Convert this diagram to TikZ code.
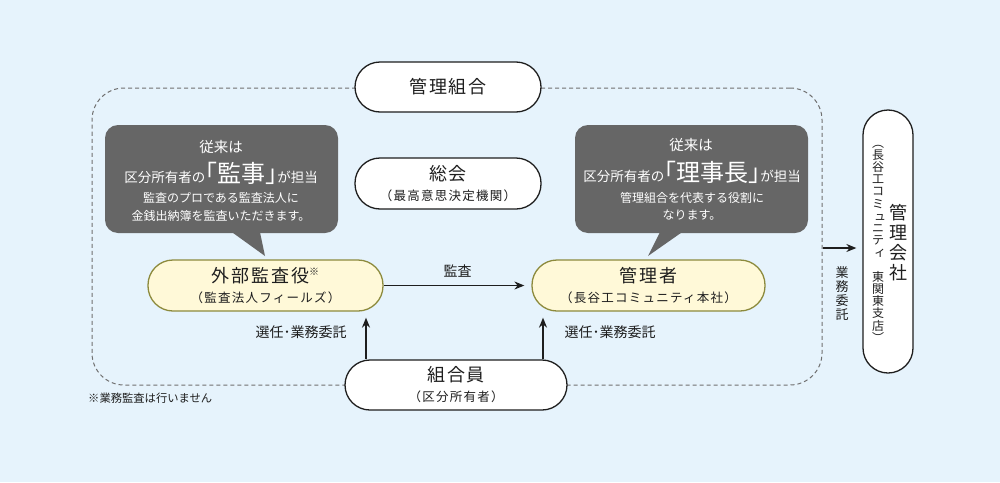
\documentclass[tikz,border=0pt]{standalone}
\usepackage{fontspec}
\setmainfont{Noto Sans CJK JP}
\newfontfamily\jpsp[LetterSpace=10]{Noto Sans CJK JP}
\usetikzlibrary{positioning}
\usetikzlibrary{arrows.meta}
\usepackage{xcolor}
\definecolor{bgblue}{HTML}{E6F3FC}
\definecolor{bubgray}{HTML}{666666}
\definecolor{pillfill}{HTML}{FFF9D8}
\definecolor{pillline}{HTML}{8C8A3C}
\definecolor{dashgray}{HTML}{707070}
\definecolor{inkblack}{HTML}{1E1E1E}
\newcommand{\jpsize}[1]{\fontsize{#1}{#1}\selectfont}
\newcommand{\kogaki}[1]{\hspace{4pt}#1}

\begin{document}
\begin{tikzpicture}[x=1pt, y=-1pt,
    pill/.style={draw=inkblack, line width=1.3pt, fill=white, rounded corners=25pt,
      minimum height=50pt, align=center, inner sep=0pt, text=inkblack,
      font=\fontsize{12.5}{20}\selectfont\jpsp},
    yellowpill/.style={pill, draw=pillline, fill=pillfill},
    bubble/.style={fill=bubgray, rounded corners=13pt, inner sep=0pt},
    btxt/.style={text=white, inner sep=0pt},
    lbl/.style={inner sep=0pt, text=inkblack, font=\jpsize{14}},
    arr/.style={-{Stealth[length=10pt,width=8pt]}, line width=1.3pt, draw=inkblack}]
  \path[fill=bgblue, use as bounding box] (0,0) rectangle (1000,482);

  % dashed frame of the union
  \node[draw=dashgray, line width=1pt, dash pattern=on 4pt off 3pt, rounded corners=32pt,
    minimum width=730pt, minimum height=297pt, inner sep=0pt] (union) at (457,236.5) {};

  % upper nodes
  \node[pill, minimum width=186pt] (kumiai) at (448,87) {{\jpsize{18}管理組合}};
  \node[pill, minimum width=186pt, minimum height=51pt] (sokai) at (448,183.5)
    {{\fontsize{18}{20}\selectfont 総会}\\（最高意思決定機関）};

  % speech bubbles
  \node[bubble, minimum width=233pt, minimum height=108pt] (bubL) at (221.5,179) {};
  \coordinate (tipL) at (265,256);
  \fill[bubgray] ([xshift=10.5pt,yshift=1pt]bubL.south) -- (tipL) -- ([xshift=38.5pt,yshift=1pt]bubL.south) -- cycle;
  \node[btxt, font=\jpsize{14.5}] (bubLa) at (221,147) {従来は};
  \node[btxt, font=\jpsize{13.5}] (bubLb) at (221,173)
    {区分所有者の{\jpsize{24}｢監事｣}が担当};
  \node[btxt, font=\jpsize{12}] (bubLc) at (221,198) {監査のプロである監査法人に};
  \node[btxt, font=\jpsize{12}] (bubLd) at (221,216) {金銭出納簿を監査いただきます。};

  \node[bubble, minimum width=233pt, minimum height=108pt] (bubR) at (691.5,179) {};
  \coordinate (tipR) at (648,256);
  \fill[bubgray] ([xshift=-31.5pt,yshift=1pt]bubR.south) -- (tipR) -- ([xshift=-9.5pt,yshift=1pt]bubR.south) -- cycle;
  \node[btxt, font=\jpsize{14.5}] (bubRa) at (691,145) {従来は};
  \node[btxt, font=\jpsize{13.5}] (bubRb) at (692,172)
    {区分所有者の{\jpsize{24}｢理事長｣}が担当};
  \node[btxt, font=\jpsize{12}] (bubRc) at (692,198) {管理組合を代表する役割に};
  \node[btxt, font=\jpsize{12}] (bubRd) at (692,215) {なります。};

  % officers
  \node[yellowpill, minimum width=235pt, minimum height=51pt] (gaibu) at (265.5,285.5)
    {{\fontsize{18}{20}\selectfont 外部監査役{\jpsize{10}\raisebox{7pt}{※}}}\\（監査法人フィールズ）};
  \node[yellowpill, minimum width=233pt, minimum height=51pt] (kanri) at (648.5,285.5)
    {{\fontsize{18}{20}\selectfont 管理者}\\（長谷工コミュニティ本社）};
  \node[pill, minimum width=222pt] (kumiaiin) at (456,385)
    {{\fontsize{18}{20}\selectfont 組合員}\\（区分所有者）};

  \draw[arr, shorten >=7pt] (gaibu) -- node[lbl, above=8pt] (kansa) {監査} (kanri);
  \draw[arr, shorten >=6pt] ([xshift=-90pt]kumiaiin.north) -- ([xshift=-90pt]kumiaiin.north |- gaibu.south);
  \draw[arr, shorten >=6pt] ([xshift=87pt]kumiaiin.north) -- ([xshift=87pt]kumiaiin.north |- kanri.south);
  \node[lbl] (senninL) at (301,332) {選任･業務委託};
  \node[lbl] (senninR) at (610,332) {選任･業務委託};

  \node[lbl, anchor=west, font=\jpsize{11.3}] (chui) at (88,398) {※業務監査は行いません};

  % management company
  \node[pill, minimum width=50pt, minimum height=263pt] (kaisha) at (888,241.5) {};
  \node[inner sep=0pt, align=center, text=inkblack, font=\fontsize{18}{20}\selectfont] (kaishaA) at (898,243)
    {管\\理\\会\\社};
  \node[inner sep=0pt, align=center, text=inkblack, font=\fontsize{12}{12.2}\selectfont] (kaishaB) at (878,243.5)
    {︵\\長\\谷\\工\\コ\\ミ\\\kogaki{ュ}\\ニ\\テ\\\kogaki{ィ}\\[12.2pt]東\\関\\東\\支\\店\\︶};
  \draw[arr, shorten >=6pt] ([yshift=-11.5pt]union.east) -- ([yshift=-11.5pt]union.east -| kaisha.west);
  \node[lbl, align=center, font=\fontsize{13}{14}\selectfont] (itaku) at (842,293) {業\\務\\委\\託};
\end{tikzpicture}
\end{document}
